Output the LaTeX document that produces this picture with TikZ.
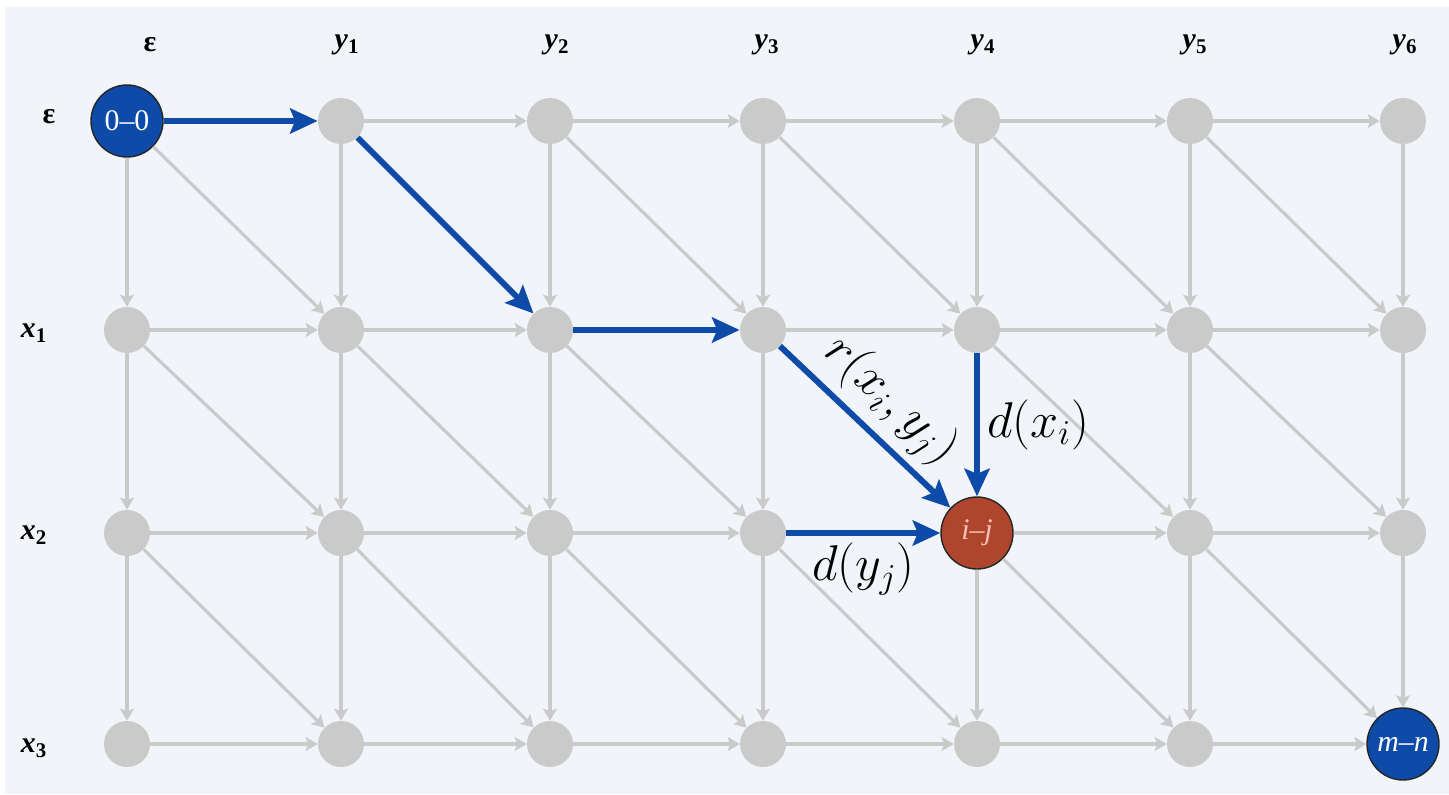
\documentclass[tikz,border=0pt]{standalone}
\usepackage{graphicx}
\usepackage{fontspec}
\setmainfont{Liberation Serif}
\usetikzlibrary{arrows.meta,positioning}
\definecolor{alnGris}{HTML}{CACACA}
\definecolor{alnAzul}{HTML}{0E4AA8}
\definecolor{alnRojo}{HTML}{B0452E}
\definecolor{alnRosa}{HTML}{F4C4B6}
\definecolor{alnFondo}{HTML}{F1F4F8}

\begin{document}
\begin{tikzpicture}[x=0.02cm, y=-0.02cm,
      g/.style={circle, fill=alnGris, minimum size=0.92cm, inner sep=0pt},
      f/.style={circle, draw=black!85, thick, fill=#1, minimum size=1.44cm,
                inner sep=0pt, font=\fontsize{17}{17}\selectfont},
      e/.style={draw=alnGris, line width=1.8pt,
                -{Stealth[length=0.24cm, width=0.28cm, inset=0.05cm]}},
      p/.style={draw=alnAzul, line width=3.4pt,
                -{Stealth[length=0.55cm, width=0.5cm, inset=0.1cm]}},
      lab/.style={font=\fontsize{17}{17}\selectfont\bfseries},
      ml/.style={font=\fontsize{25}{25}\selectfont, inner sep=4pt},
      every node/.style={align=center}]
    \useasboundingbox (0,0) rectangle (1449,794);
    \fill[alnFondo] (5,7) rectangle (1449,794);

    % rejilla de nodos
    \foreach \r/\y in {0/121,1/330,2/533,3/744}{
      \foreach \c/\x in {0/127,1/341,2/550,3/763,4/977,5/1190,6/1403}{
        \ifnum\r\c=0 \else\ifnum\r\c=24 \else\ifnum\r\c=36 \else
          \node[g] (n\r\c) at (\x,\y) {};
        \fi\fi\fi}}
    \node[f=alnAzul] (n00) at (127,121) {\color{white}0--0};
    \node[f=alnRojo] (n24) at (977,533) {\color{alnRosa}\textit{i--j}};
    \node[f=alnAzul] (n36) at (1403,744) {\color{white}\textit{m--n}};

    % etiquetas
    \node[lab] (hE) at (150,45) {ε};
    \foreach \c/\x in {1/347,2/557,3/767,4/983,5/1195,6/1405}
      \node[lab] (h\c) at (\x,45) {\textit{y}\textsubscript{\c}};
    \node[lab] (vE) at (49,117) {ε};
    \foreach \r/\y in {1/333,2/535,3/748}
      \node[lab] (v\r) at (34,\y) {\textit{x}\textsubscript{\r}};

    % aristas grises
    \foreach \r in {0,...,3}{
      \foreach \c [evaluate=\c as \cn using int(\c+1)] in {0,...,5}{
        \ifnum\r\c=0 \else\ifnum\r\c=12 \else\ifnum\r\c=23 \else
          \draw[e] (n\r\c) -- (n\r\cn);
        \fi\fi\fi}}
    \foreach \r [evaluate=\r as \rn using int(\r+1)] in {0,1,2}{
      \foreach \c in {0,...,6}{
        \ifnum\r\c=14 \else \draw[e] (n\r\c) -- (n\rn\c); \fi}}
    \foreach \r [evaluate=\r as \rn using int(\r+1)] in {0,1,2}{
      \foreach \c [evaluate=\c as \cn using int(\c+1)] in {0,...,5}{
        \ifnum\r\c=1 \else\ifnum\r\c=13 \else
          \draw[e] (n\r\c) -- (n\rn\cn);
        \fi\fi}}

    % camino
    \draw[p] (n00) -- (n01);
    \draw[p] (n01) -- (n12);
    \draw[p] (n12) -- (n13);
    \draw[p] (n13) -- node[midway, sloped, above, ml] {\scalebox{1.15}{$r(x_i,y_j)$}} (n24);
    \draw[p] (n14) -- node[midway, right, ml] {\scalebox{1.15}{$d(x_i)$}} (n24);
    \draw[p] (n23) -- node[midway, below, ml] {\scalebox{1.15}{$d(y_j)$}} (n24);
  \end{tikzpicture}
\end{document}
